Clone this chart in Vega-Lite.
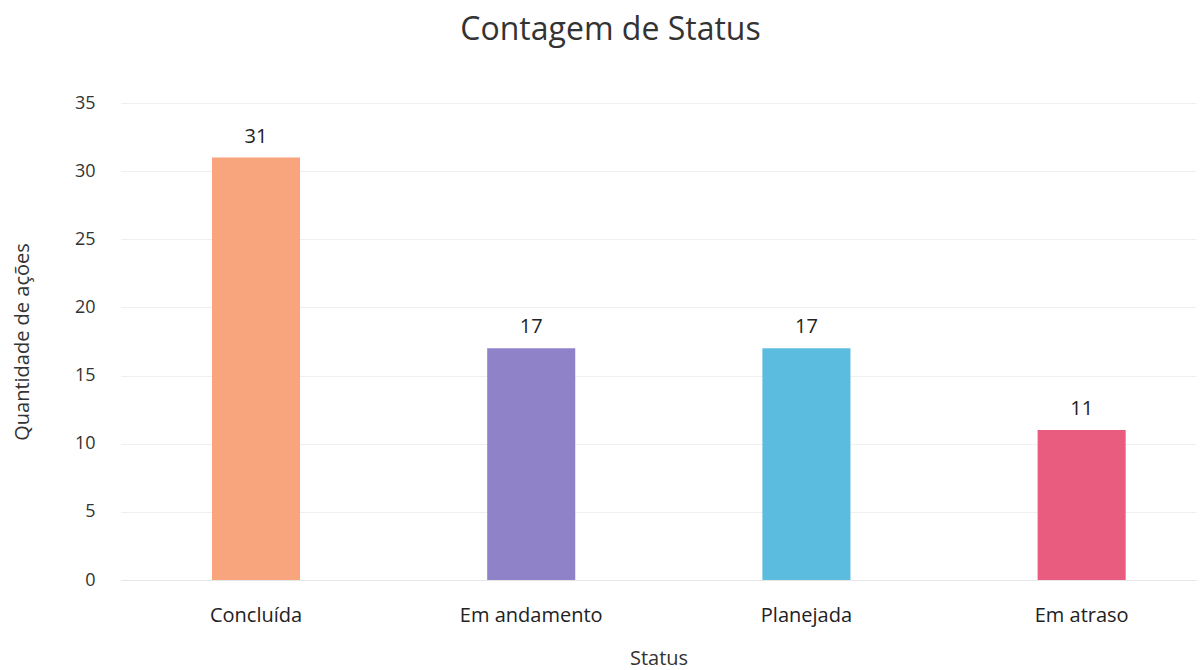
{
  "$schema": "https://vega.github.io/schema/vega-lite/v6.json",
  "autosize": "none",
  "width": 1075,
  "height": 477,
  "padding": {"left": 121, "top": 103, "right": 6, "bottom": 90},
  "background": "white",
  "title": {"text": "Contagem de Status", "font": "Open Sans", "fontSize": 32, "fontWeight": "normal", "color": "#333333", "offset": 47, "anchor": "middle", "dx": -48},
  "data": {"values": [
    {"Status": "Concluída", "Quantidade": 31},
    {"Status": "Em andamento", "Quantidade": 17},
    {"Status": "Planejada", "Quantidade": 17},
    {"Status": "Em atraso", "Quantidade": 11}
  ]},
  "config": {"view": {"stroke": null}, "font": "Open Sans"},
  "encoding": {
    "x": {"field": "Status", "type": "nominal", "sort": null,
      "scale": {"paddingInner": 0.68, "paddingOuter": 0.293, "align": 0.564},
      "axis": {"labelAngle": 0, "domain": true, "domainColor": "#e6e6e6", "ticks": false, "labelFontSize": 20, "labelColor": "#222222", "labelPadding": 25, "titleFontSize": 20, "titleFontWeight": "normal", "titleColor": "#333333", "titlePadding": 23, "title": "Status"}},
    "y": {"field": "Quantidade", "type": "quantitative",
      "scale": {"domain": [0, 35]},
      "axis": {"values": [0, 5, 10, 15, 20, 25, 30, 35], "domain": false, "ticks": false, "gridColor": "#efefef", "labelFontSize": 18, "labelColor": "#333333", "labelPadding": 26, "titleFontSize": 20, "titleFontWeight": "normal", "titleColor": "#333333", "titlePadding": 42, "title": "Quantidade de ações"}}
  },
  "layer": [
    {"mark": {"type": "bar", "strokeWidth": 1},
     "encoding": {
       "color": {"field": "Status", "type": "nominal", "sort": null, "legend": null,
         "scale": {"domain": ["Concluída", "Em andamento", "Planejada", "Em atraso"], "range": ["#F8A47C", "#8F82C9", "#5CBCE0", "#E95C80"]}
       }}},
    {"mark": {"type": "text", "baseline": "bottom", "dy": -11, "fontSize": 20, "color": "#222222"},
     "encoding": {"text": {"field": "Quantidade", "type": "quantitative"}}}
  ]
}
